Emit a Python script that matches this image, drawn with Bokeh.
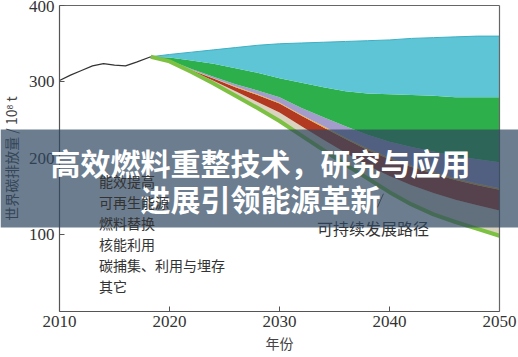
from bokeh.plotting import figure
from bokeh.models import (ColumnDataSource, FixedTicker, Legend, LegendItem,
                          Label, Range1d, LinearAxis)
from bokeh.transform import stack
from bokeh.embed import file_html
from bokeh.resources import INLINE

# ---------------- data ----------------
hist_years = [2010, 2011, 2012, 2013, 2014, 2015, 2016, 2017, 2018.3]
hist_emissions = [302, 309, 315, 321, 324, 322, 321, 326, 333]

years = [2018.3, 2020, 2022, 2024, 2026, 2028, 2030, 2032, 2034, 2036,
         2038, 2040, 2042, 2044, 2046, 2048, 2050]
sustainable_path = [333, 327, 313, 298, 282, 266, 249, 230, 211, 192,
                    174, 156, 140, 127, 117, 108, 99]
other = [0, 0.7, 1.5, 3.5, 6, 8, 11, 12, 13.5, 15.5, 17, 21, 25, 28, 29, 31, 33]
ccus = [0, 0.3, 1, 3, 5, 9, 12, 14, 16, 18, 20, 22, 24, 25, 26, 26, 27]
nuclear = [0, 0.2, 0.5, 0.5, 1, 1, 1, 1, 1.5, 1.5, 2, 2, 2, 2, 2, 2, 2]
fuel_switch = [0, 0.3, 1, 2, 3, 5, 7, 9, 12, 15, 18, 21, 24, 27, 29, 32, 34]
renewables = [0, 3.5, 11, 17, 21, 23, 25, 33, 39, 46, 54, 62, 68, 73, 77, 81, 85]
efficiency = [0, 4, 11, 18, 27, 36, 45, 52, 59, 65, 69, 71, 74, 76, 79, 80, 80]

layer_keys = ["other", "ccus", "nuclear", "fuel_switch", "renewables", "efficiency"]
layer_labels = ["其它", "碳捕集、利用与埋存", "核能利用", "燃料替换", "可再生能源", "能效提高"]
layer_colors = ["#D9D3BF", "#B23A21", "#F5AA24", "#A49DCB", "#2DB04B", "#5DC5D6"]
legend_colors = ["#DCD7C4", "#B8432D", "#F6B42C", "#A49DCB", "#2DB04B", "#5DC5D6"]

x_ticks = [2010, 2020, 2030, 2040, 2050]
y_ticks = [100, 200, 300, 400]
x_bounds = (2010, 2050)
y_bounds = (0, 400)

title_lines = ["高效燃料重整技术，研究与应用", "进展引领能源革新"]
path_label = "可持续发展路径"

# ---------------- figure ----------------
W, H = 518, 357
# frame covers the whole canvas; axes are pinned at data locations
p = figure(width=W, height=H, output_backend="svg", toolbar_location=None,
           x_range=Range1d(2004.6364, 2051.7273), y_range=Range1d(-60.131, 406.536),
           min_border_left=0, min_border_right=0, min_border_top=0,
           min_border_bottom=0, background_fill_color="white",
           border_fill_color="white")
p.grid.visible = False
p.outline_line_color = None

src = ColumnDataSource(dict(year=years, base=sustainable_path, other=other, ccus=ccus,
                            nuclear=nuclear, fuel_switch=fuel_switch,
                            renewables=renewables, efficiency=efficiency))

for i, key in enumerate(layer_keys):
    p.varea(x="year", y1=stack("base", *layer_keys[:i]),
            y2=stack("base", *layer_keys[:i + 1]), source=src,
            fill_color=layer_colors[i])

p.line(x="year", y=stack("base", *layer_keys), source=src,
       line_color="#3FAFC3", line_width=1)
p.line(x="year", y="base", source=src, line_color="#7DC143", line_width=4)

p.line(hist_years, hist_emissions, line_color="#333333", line_width=1.3)

# legend proxies
empty = dict(left=[], right=[], top=[], bottom=[])
items = []
for i in reversed(range(len(layer_keys))):
    r = p.quad(left="left", right="right", top="top", bottom="bottom",
               source=ColumnDataSource(empty), fill_color=legend_colors[i],
               line_color="#444444", line_width=1)
    items.append(LegendItem(label=layer_labels[i], renderers=[r]))
legend = Legend(items=items, location=(78, 61), padding=0, margin=0,
                spacing=1, glyph_width=15, glyph_height=15, label_height=15,
                label_standoff=6, border_line_color=None,
                background_fill_alpha=0, label_text_font="Noto Sans CJK SC",
                label_text_font_size="14px", label_text_color="#333333")
p.add_layout(legend)

# axes
p.xaxis.fixed_location = y_bounds[0]
p.xaxis.bounds = x_bounds
p.yaxis.fixed_location = x_bounds[0]
p.yaxis.bounds = y_bounds
for ax in (p.xaxis, p.yaxis):
    ax.axis_line_color = "#555555"
    ax.axis_line_width = 1.2
    ax.major_tick_line_color = "#555555"
    ax.major_tick_in = 5
    ax.major_tick_out = 0
    ax.minor_tick_line_color = None
    ax.major_label_text_font = "Liberation Serif"
    ax.major_label_text_font_size = "17px"
    ax.major_label_text_color = "#333333"
    ax.major_label_standoff = 5
    ax.axis_label_text_font = "Noto Sans CJK SC"
    ax.axis_label_text_font_size = "14px"
    ax.axis_label_text_font_style = "normal"
    ax.axis_label_text_color = "#444444"
p.xaxis.axis_label_standoff = 2
p.yaxis.axis_label_standoff = 5
p.xaxis.ticker = FixedTicker(ticks=x_ticks)
p.yaxis.ticker = FixedTicker(ticks=y_ticks)
p.xaxis.axis_label = "年份"
p.yaxis.axis_label = "世界碳排放量 / 10⁸ t"

# frame lines on top and right
top_ax = LinearAxis(fixed_location=y_bounds[1], bounds=x_bounds,
                    ticker=FixedTicker(ticks=[]), axis_line_color="#666666",
                    axis_line_width=1.2, major_tick_line_color=None,
                    minor_tick_line_color=None, major_label_text_font_size="0px")
right_ax = LinearAxis(fixed_location=x_bounds[1], bounds=y_bounds,
                      ticker=FixedTicker(ticks=[]), axis_line_color="#666666",
                      axis_line_width=1.2, major_tick_line_color=None,
                      minor_tick_line_color=None, major_label_text_font_size="0px")
p.add_layout(top_ax, "above")
p.add_layout(right_ax, "right")

# annotation
p.add_layout(Label(x=2038.5, y=108.5, text=path_label, text_align="center",
                   text_baseline="middle", text_font="Noto Sans CJK SC",
                   text_font_size="16px", text_color="#333333"))
p.segment(x0=[2038.9], y0=[136], x1=[2039.45], y1=[154], line_color="#555555",
          line_width=1)

# title band (full width, over everything)
band = Label(x=0, y=129, x_units="canvas", y_units="canvas", text=" ",
             text_align="left", text_baseline="top", text_font_size="1px",
             background_fill_color="#2D465F", background_fill_alpha=0.7,
             padding=dict(top=0, right=W + 10, bottom=97, left=0),
             level="overlay")
p.add_layout(band)
for txt, ty in zip(title_lines, [161, 197.5]):
    p.add_layout(Label(x=260, y=ty, x_units="canvas", y_units="canvas", text=txt,
                       text_align="center", text_baseline="middle",
                       text_font="Noto Sans CJK SC", text_font_size="30px",
                       text_font_style="bold", text_color="white",
                       level="overlay"))

open("out.html", "w").write(file_html(p, INLINE))
